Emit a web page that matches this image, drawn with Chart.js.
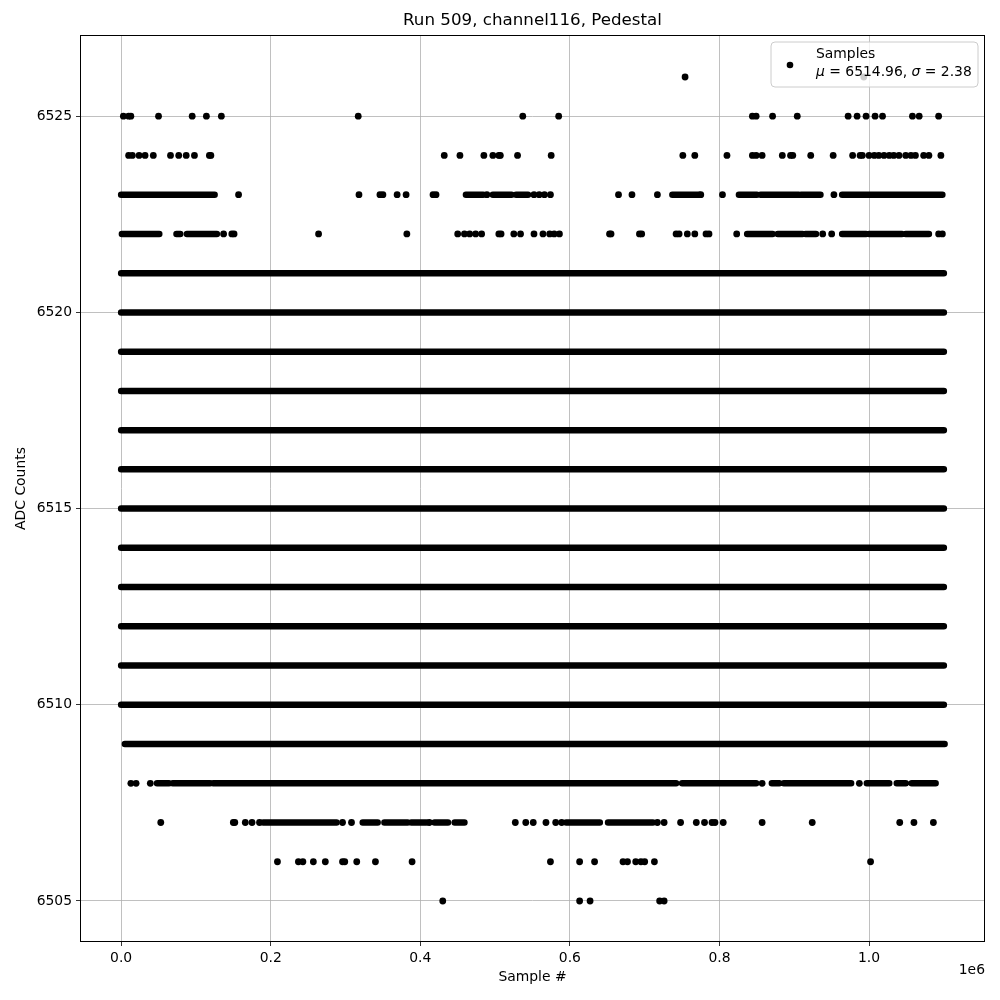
<!DOCTYPE html>
<html>
<head>
<meta charset="utf-8">
<script src="https://cdn.jsdelivr.net/npm/chart.js@4"></script>
<style>
  body { margin: 0; background: #fff; }
  #box { width: 1000px; height: 1000px; }
</style>
</head>
<body>
<div id="box"><canvas id="grafico"></canvas></div>
<script>
// ticks
var xTicks = [0, 200000, 400000, 600000, 800000, 1000000];
var yTicks = [6505, 6510, 6515, 6520, 6525];

// rows full of samples (run from start to end)
var denseLevels = [6510, 6511, 6512, 6513, 6514, 6515, 6516, 6517, 6518, 6519, 6520, 6521];
var denseRun = [0, 1100000];

// sparse rows: isolated samples
var pts6526 = [754000, 993000];
var pts6525 = [3000, 10000, 13000, 50000, 95000, 114000, 134000, 317000, 537000, 585000, 844000, 849000, 871000, 904000, 972000, 984000, 996000, 1008000, 1018000, 1058000, 1067000, 1093000];
var pts6524 = [10000, 15000, 24000, 32000, 43000, 66000, 77000, 87000, 98000, 118000, 120000, 432000, 453000, 485000, 497000, 505000, 507000, 530000, 575000, 751000, 767000, 810000, 844000, 849000, 857000, 884000, 895000, 898000, 922000, 952000, 978000, 988000, 991000, 1000000, 1007000, 1013000, 1020000, 1027000, 1033000, 1040000, 1049000, 1056000, 1062000, 1073000, 1080000, 1096000];
var pts6523 = [157000, 318000, 346000, 350000, 369000, 381000, 417000, 421000, 489000, 552000, 559000, 566000, 574000, 665000, 683000, 717000, 775000, 804000, 953000];
var pts6522 = [137000, 148000, 151000, 264000, 382000, 450000, 459000, 466000, 474000, 482000, 505000, 508000, 525000, 534000, 552000, 564000, 573000, 579000, 586000, 653000, 655000, 693000, 696000, 742000, 746000, 757000, 767000, 782000, 786000, 823000, 938000, 950000, 1093000, 1098000];
var pts6508 = [13000, 20000, 39000, 857000, 987000];
var pts6507 = [53000, 150000, 152000, 166000, 175000, 185000, 296000, 308000, 412000, 527000, 541000, 551000, 568000, 581000, 589000, 717000, 726000, 748000, 769000, 780000, 790000, 794000, 805000, 857000, 924000, 1041000, 1060000, 1086000];
var pts6506 = [209000, 237000, 243000, 257000, 273000, 296000, 299000, 315000, 340000, 389000, 574000, 613000, 633000, 671000, 677000, 688000, 695000, 700000, 713000, 1002000];
var pts6505 = [430000, 613000, 627000, 720000, 726000];

// sparse rows: stretches where samples touch each other
var runs6523 = [[0, 125000], [461000, 484000], [497000, 522000], [528000, 544000], [737000, 773000], [826000, 850000], [855000, 906000], [909000, 935000], [964000, 1098000]];
var runs6522 = [[1000, 51000], [74000, 79000], [88000, 128000], [837000, 871000], [878000, 911000], [915000, 929000], [964000, 996000], [1000000, 1044000], [1049000, 1080000]];
var runs6509 = [[5000, 1101000]];
var runs6508 = [[48000, 64000], [69000, 119000], [123000, 742000], [750000, 849000], [870000, 880000], [886000, 976000], [997000, 1027000], [1037000, 1049000], [1057000, 1089000]];
var runs6507 = [[190000, 288000], [323000, 343000], [352000, 383000], [388000, 408000], [419000, 437000], [446000, 459000], [595000, 640000], [651000, 711000]];

var pontos = [];
function addPts(lista, nivel) {
  for (var i = 0; i < lista.length; i++) {
    pontos.push({ x: lista[i], y: nivel });
  }
}
addPts(pts6526, 6526);
addPts(pts6525, 6525);
addPts(pts6524, 6524);
addPts(pts6523, 6523);
addPts(pts6522, 6522);
addPts(pts6508, 6508);
addPts(pts6507, 6507);
addPts(pts6506, 6506);
addPts(pts6505, 6505);

var trechos = [];
function addRuns(lista, nivel) {
  for (var i = 0; i < lista.length; i++) {
    trechos.push({ x: lista[i][0], y: nivel });
    trechos.push({ x: lista[i][1], y: nivel });
    trechos.push({ x: lista[i][1], y: null });
  }
}
for (var i = 0; i < denseLevels.length; i++) {
  addRuns([denseRun], denseLevels[i]);
}
addRuns(runs6523, 6523);
addRuns(runs6522, 6522);
addRuns(runs6509, 6509);
addRuns(runs6508, 6508);
addRuns(runs6507, 6507);

var fonte = "'DejaVu Sans', sans-serif";

// title, axis labels, frame and legend drawn like matplotlib
var extras = {
  id: "extras",
  afterDraw: function (chart) {
    var ctx = chart.ctx;
    var a = chart.chartArea;
    ctx.save();

    ctx.strokeStyle = "#000";
    ctx.lineWidth = 1;
    ctx.strokeRect(a.left + 0.5, a.top + 0.5, a.right - a.left - 1, a.bottom - a.top - 1);

    ctx.fillStyle = "#000";
    ctx.textAlign = "center";
    ctx.textBaseline = "middle";
    ctx.font = "16.7px " + fonte;
    ctx.fillText("Run 509, channel116, Pedestal", (a.left + a.right) / 2, 21);

    ctx.font = "13.9px " + fonte;
    ctx.fillText("Sample #", (a.left + a.right) / 2, 977);
    ctx.textAlign = "right";
    ctx.fillText("1e6", a.right, 970);

    ctx.save();
    ctx.translate(21, (a.top + a.bottom) / 2);
    ctx.rotate(-Math.PI / 2);
    ctx.textAlign = "center";
    ctx.fillText("ADC Counts", 0, 0);
    ctx.restore();

    // legend
    var lx = 771, ly = 42, lw = 207, lh = 45, r = 4;
    ctx.beginPath();
    ctx.moveTo(lx + r, ly);
    ctx.arcTo(lx + lw, ly, lx + lw, ly + lh, r);
    ctx.arcTo(lx + lw, ly + lh, lx, ly + lh, r);
    ctx.arcTo(lx, ly + lh, lx, ly, r);
    ctx.arcTo(lx, ly, lx + lw, ly, r);
    ctx.closePath();
    ctx.fillStyle = "rgba(255,255,255,0.8)";
    ctx.fill();
    ctx.strokeStyle = "#cccccc";
    ctx.lineWidth = 1;
    ctx.stroke();

    ctx.fillStyle = "#000";
    ctx.beginPath();
    ctx.arc(790, 65, 3.3, 0, Math.PI * 2);
    ctx.fill();

    ctx.textAlign = "left";
    ctx.font = "13.9px " + fonte;
    ctx.fillText("Samples", 816, 54);

    var x = 816, y = 72;
    var partes = [
      ["μ", true], [" = 6514.96, ", false], ["σ", true], [" = 2.38", false]
    ];
    for (var k = 0; k < partes.length; k++) {
      ctx.font = (partes[k][1] ? "oblique " : "") + "13.9px " + fonte;
      ctx.fillText(partes[k][0], x, y);
      x += ctx.measureText(partes[k][0]).width;
    }
    ctx.restore();
  },
};

new Chart(document.getElementById("grafico"), {
  type: "scatter",
  data: {
    datasets: [
      {
        data: trechos,
        showLine: true,
        spanGaps: false,
        borderColor: "#000",
        borderWidth: 6.5,
        borderCapStyle: "round",
        borderJoinStyle: "round",
        pointRadius: 0,
        pointHoverRadius: 0,
      },
      {
        data: pontos,
        backgroundColor: "#000",
        borderColor: "#000",
        borderWidth: 0,
        pointRadius: 3.4,
      },
    ],
  },
  options: {
    responsive: true,
    maintainAspectRatio: false,
    animation: false,
    layout: {
      padding: { left: 0, right: 15, top: 35, bottom: 0 },
    },
    scales: {
      x: {
        type: "linear",
        min: -55000,
        max: 1155000,
        afterBuildTicks: function (scale) {
          scale.ticks = xTicks.map(function (v) { return { value: v }; });
        },
        afterFit: function (scale) {
          scale.height = 58;
        },
        grid: {
          color: "#b0b0b0",
          lineWidth: 0.8,
          tickColor: "#000",
          tickLength: 4,
        },
        border: { display: false },
        ticks: {
          autoSkip: false,
          maxRotation: 0,
          padding: 4,
          color: "#000",
          font: { family: fonte, size: 13.9 },
          callback: function (v) {
            return (v / 1000000).toFixed(1);
          },
        },
      },
      y: {
        type: "linear",
        min: 6503.955,
        max: 6527.07,
        afterBuildTicks: function (scale) {
          scale.ticks = yTicks.map(function (v) { return { value: v }; });
        },
        afterFit: function (scale) {
          scale.width = 80;
        },
        grid: {
          color: "#b0b0b0",
          lineWidth: 0.8,
          tickColor: "#000",
          tickLength: 4,
        },
        border: { display: false },
        ticks: {
          autoSkip: false,
          padding: 4,
          color: "#000",
          font: { family: fonte, size: 13.9 },
          callback: function (v) {
            return String(v);
          },
        },
      },
    },
    plugins: {
      legend: { display: false },
      tooltip: { enabled: false },
      title: { display: false },
    },
  },
  plugins: [extras],
});
</script>
</body>
</html>
